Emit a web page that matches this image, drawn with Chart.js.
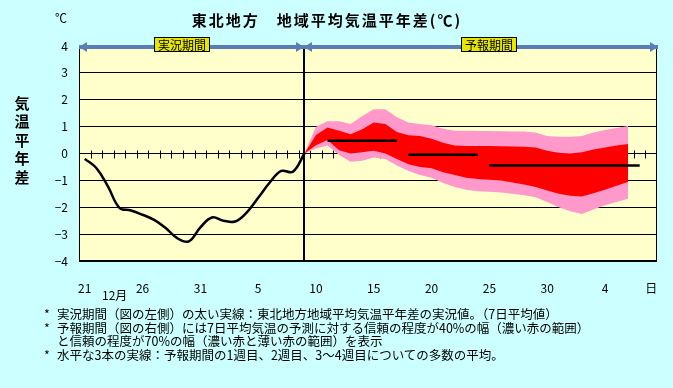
<!DOCTYPE html>
<html>
<head>
<meta charset="utf-8">
<title>東北地方 地域平均気温平年差</title>
<script src="https://cdn.jsdelivr.net/npm/chart.js@4.4.1/dist/chart.umd.min.js"></script>
<style>
  html, body { margin: 0; padding: 0; background: #CCFFFF; }
  #wrap { position: relative; width: 673px; height: 388px; overflow: hidden;
          font-family: "Noto Sans CJK JP", sans-serif; color: #000; }
  #chart { position: absolute; left: 0; top: 0; }
  .txt { position: absolute; white-space: nowrap; }
  .title { left: 0; width: 654px; top: 9px; text-align: center; font-size: 15px; line-height: 22px;
           font-weight: bold; letter-spacing: 2px; }
  .unit { left: 55px; top: 10px; font-size: 12px; line-height: 16px; }
  .ytitle { left: 13px; top: 94px; width: 18px; text-align: center; font-size: 15px; line-height: 18.4px;
            font-weight: bold; }
  .period { top: 37px; height: 15px; width: 56px; box-sizing: border-box; border: 1px solid #000;
            background: #E6E600; font-size: 12px; line-height: 13px; text-align: center; }
  .month { left: 102px; top: 287px; font-size: 12px; line-height: 16px; }
  .notes { left: 44px; top: 307px; font-size: 12.5px; line-height: 13.7px; }
  .notes div { position: relative; padding-left: 13px; }
  .notes span { position: absolute; left: 0; }
</style>
</head>
<body>
<div id="wrap">
  <canvas id="chart" width="673" height="388"></canvas>
  <div class="txt title">東北地方　地域平均気温平年差(℃)</div>
  <div class="txt unit">℃</div>
  <div class="txt ytitle">気<br>温<br>平<br>年<br>差</div>
  <div class="txt period" style="left:154px">実況期間</div>
  <div class="txt period" style="left:461px">予報期間</div>
  <div class="txt month">12月</div>
  <div class="txt notes">
    <div><span>*</span>実況期間（図の左側）の太い実線：東北地方地域平均気温平年差の実況値。（7日平均値）</div>
    <div><span>*</span>予報期間（図の右側）には7日平均気温の予測に対する信頼の程度が40%の幅（濃い赤の範囲）</div>
    <div>と信頼の程度が70%の幅（濃い赤と薄い赤の範囲）を表示</div>
    <div><span>*</span>水平な3本の実線：予報期間の1週目、2週目、3～4週目についての多数の平均。</div>
  </div>
</div>
<script>
  // days: Dec 21 .. Feb 8
  var days = ['21','22','23','24','25','26','27','28','29','30','31',
    '1','2','3','4','5','6','7','8','9','10','11','12','13','14','15','16','17','18','19','20',
    '21','22','23','24','25','26','27','28','29','30','31',
    '1','2','3','4','5','6','7','8'];
  var lastTick = '日';
  var splitIndex = 19;   // Jan 9, end of observed period

  // observed 7-day mean anomaly (Dec 21 .. Jan 9)
  var observed = [-0.2, -0.54, -1.22, -2.02, -2.12, -2.28, -2.47, -2.77, -3.15, -3.27,
    -2.75, -2.38, -2.5, -2.53, -2.2, -1.65, -1.08, -0.65, -0.68, 0.0];

  // forecast bands, from Jan 9 (index 19) to Feb 6 (index 47)
  var bandStart = 19;
  var outerTop = [0, 1.0, 1.2, 1.2, 1.1, 1.4, 1.65, 1.65, 1.35, 1.15,
    1.1, 1.05, 0.92, 0.85, 0.85, 0.84, 0.84, 0.83, 0.82, 0.82,
    0.78, 0.65, 0.62, 0.62, 0.65, 0.78, 0.87, 0.95, 1.02];
  var innerTop = [0, 0.69, 0.97, 0.85, 0.72, 0.9, 1.15, 1.1, 0.8, 0.68,
    0.65, 0.55, 0.4, 0.3, 0.28, 0.28, 0.28, 0.27, 0.26, 0.25,
    0.22, 0.1, 0.03, 0.0, 0.05, 0.15, 0.22, 0.3, 0.35];
  var innerBot = [0, 0.31, 0.5, 0.12, 0.0, 0.05, 0.1, 0.0, -0.2, -0.4,
    -0.5, -0.55, -0.7, -0.8, -0.9, -0.95, -0.98, -1.0, -1.08, -1.15,
    -1.25, -1.38, -1.5, -1.57, -1.6, -1.48, -1.35, -1.2, -1.06];
  var outerBot = [0, 0.19, 0.3, -0.06, -0.31, -0.27, -0.15, -0.2, -0.45, -0.65,
    -0.8, -0.9, -1.1, -1.25, -1.35, -1.4, -1.42, -1.45, -1.5, -1.55,
    -1.63, -1.8, -2.0, -2.15, -2.25, -2.08, -1.93, -1.8, -1.68];

  // ensemble mean: week 1, week 2, weeks 3-4
  var weekMeans = [0.47, -0.05, -0.45];
  var weekFrom = [21, 28, 35];
  var weekTo = [27, 34, 48];

  function pad(values, start) {
    var out = [];
    for (var i = 0; i < days.length; i++) {
      var v = values[i - start];
      out.push(v === undefined ? null : v);
    }
    return out;
  }

  function weekLine(k) {
    var out = [];
    for (var i = 0; i < days.length; i++) {
      out.push(i >= weekFrom[k] && i <= weekTo[k] ? weekMeans[k] : null);
    }
    return out;
  }

  Chart.defaults.font.family = '"Noto Sans CJK JP", sans-serif';
  Chart.defaults.color = '#000';

  // plot background, zero-line ticks, split line, border and period arrows
  var decor = {
    id: 'decor',
    beforeDraw: function (chart) {
      var a = chart.chartArea, ctx = chart.ctx;
      ctx.save();
      ctx.fillStyle = '#FFFFCC';
      ctx.fillRect(a.left, a.top, a.right - a.left, a.bottom - a.top);
      ctx.restore();
    },
    beforeDatasetsDraw: function (chart) {
      var xs = chart.scales.x, ctx = chart.ctx;
      var y0 = Math.round(chart.scales.y.getPixelForValue(0)) + 0.5;
      ctx.save();
      ctx.strokeStyle = '#000';
      ctx.lineWidth = 1;
      ctx.beginPath();
      for (var i = 1; i < days.length; i++) {
        var px = Math.round((xs.getPixelForValue(i - 1) + xs.getPixelForValue(i)) / 2) + 0.5;
        ctx.moveTo(px, y0 - 4);
        ctx.lineTo(px, y0 + 4);
      }
      ctx.stroke();
      ctx.restore();
    },
    afterDatasetsDraw: function (chart) {
      var a = chart.chartArea, ctx = chart.ctx;
      var sx = Math.round(chart.scales.x.getPixelForValue(splitIndex));
      var yTop = Math.round(chart.scales.y.getPixelForValue(4)) + 1;
      ctx.save();
      ctx.fillStyle = '#000';
      ctx.fillRect(sx - 1, a.top, 2, a.bottom - a.top);
      ctx.strokeStyle = '#000';
      ctx.lineWidth = 1;
      ctx.strokeRect(a.left + 0.5, a.top + 0.5, a.right - a.left - 1, a.bottom - a.top - 1);

      // arrows
      ctx.fillStyle = '#5B7DB5';
      ctx.fillRect(a.left, yTop - 2, a.right - a.left + 1, 4);
      function head(tip, dir) {
        ctx.beginPath();
        ctx.moveTo(tip, yTop);
        ctx.lineTo(tip - dir * 8, yTop - 5);
        ctx.lineTo(tip - dir * 8, yTop + 5);
        ctx.closePath();
        ctx.fill();
      }
      head(a.left, -1);
      head(sx, 1);
      head(sx, -1);
      head(a.right + 1, 1);
      ctx.restore();
    }
  };

  var datasets = [];
  for (var k = 0; k < weekMeans.length; k++) {
    datasets.push({
      label: '平均' + (k + 1), data: weekLine(k), borderColor: '#000', borderWidth: 2.5,
      pointRadius: 0, fill: false, order: 0
    });
  }
  datasets.push({
    label: '実況', data: pad(observed, 0), borderColor: '#000', borderWidth: 2.5,
    tension: 0.4, pointRadius: 0, fill: false, order: 1
  });
  datasets.push({
    label: '40%上', data: pad(innerTop, bandStart), borderColor: 'rgba(0,0,0,0)', borderWidth: 0,
    backgroundColor: '#FF0000', pointRadius: 0, fill: '+1', order: 2
  });
  datasets.push({
    label: '40%下', data: pad(innerBot, bandStart), borderColor: 'rgba(0,0,0,0)', borderWidth: 0,
    pointRadius: 0, fill: false, order: 3
  });
  datasets.push({
    label: '70%上', data: pad(outerTop, bandStart), borderColor: 'rgba(0,0,0,0)', borderWidth: 0,
    backgroundColor: '#FF99CC', pointRadius: 0, fill: '+1', order: 4
  });
  datasets.push({
    label: '70%下', data: pad(outerBot, bandStart), borderColor: 'rgba(0,0,0,0)', borderWidth: 0,
    pointRadius: 0, fill: false, order: 5
  });

  var ctx = document.getElementById('chart').getContext('2d');
  var chart = new Chart(ctx, {
    type: 'line',
    data: { labels: days, datasets: datasets },
    plugins: [decor],
    options: {
      responsive: false,
      animation: false,
      layout: { padding: { top: 46, right: 16, left: 0, bottom: 0 } },
      plugins: { legend: { display: false }, tooltip: { enabled: false } },
      scales: {
        x: {
          type: 'category',
          offset: true,
          grid: { display: false },
          border: { display: false },
          afterFit: function (scale) { scale.height = 127; },
          ticks: {
            autoSkip: false, maxRotation: 0, padding: 12,
            font: { size: 12 },
            callback: function (v, i) {
              if (i === days.length - 1) return lastTick;
              return i % 5 === 0 ? days[i] : '';
            }
          }
        },
        y: {
          min: -4, max: 4,
          grid: { color: '#000', lineWidth: 1, drawTicks: false },
          border: { display: false },
          afterFit: function (scale) { scale.width = 79; },
          ticks: {
            stepSize: 1, padding: 11,
            font: { size: 12 },
            callback: function (v) { return v < 0 ? '−' + (-v) : '' + v; }
          }
        }
      }
    }
  });
</script>
</body>
</html>
